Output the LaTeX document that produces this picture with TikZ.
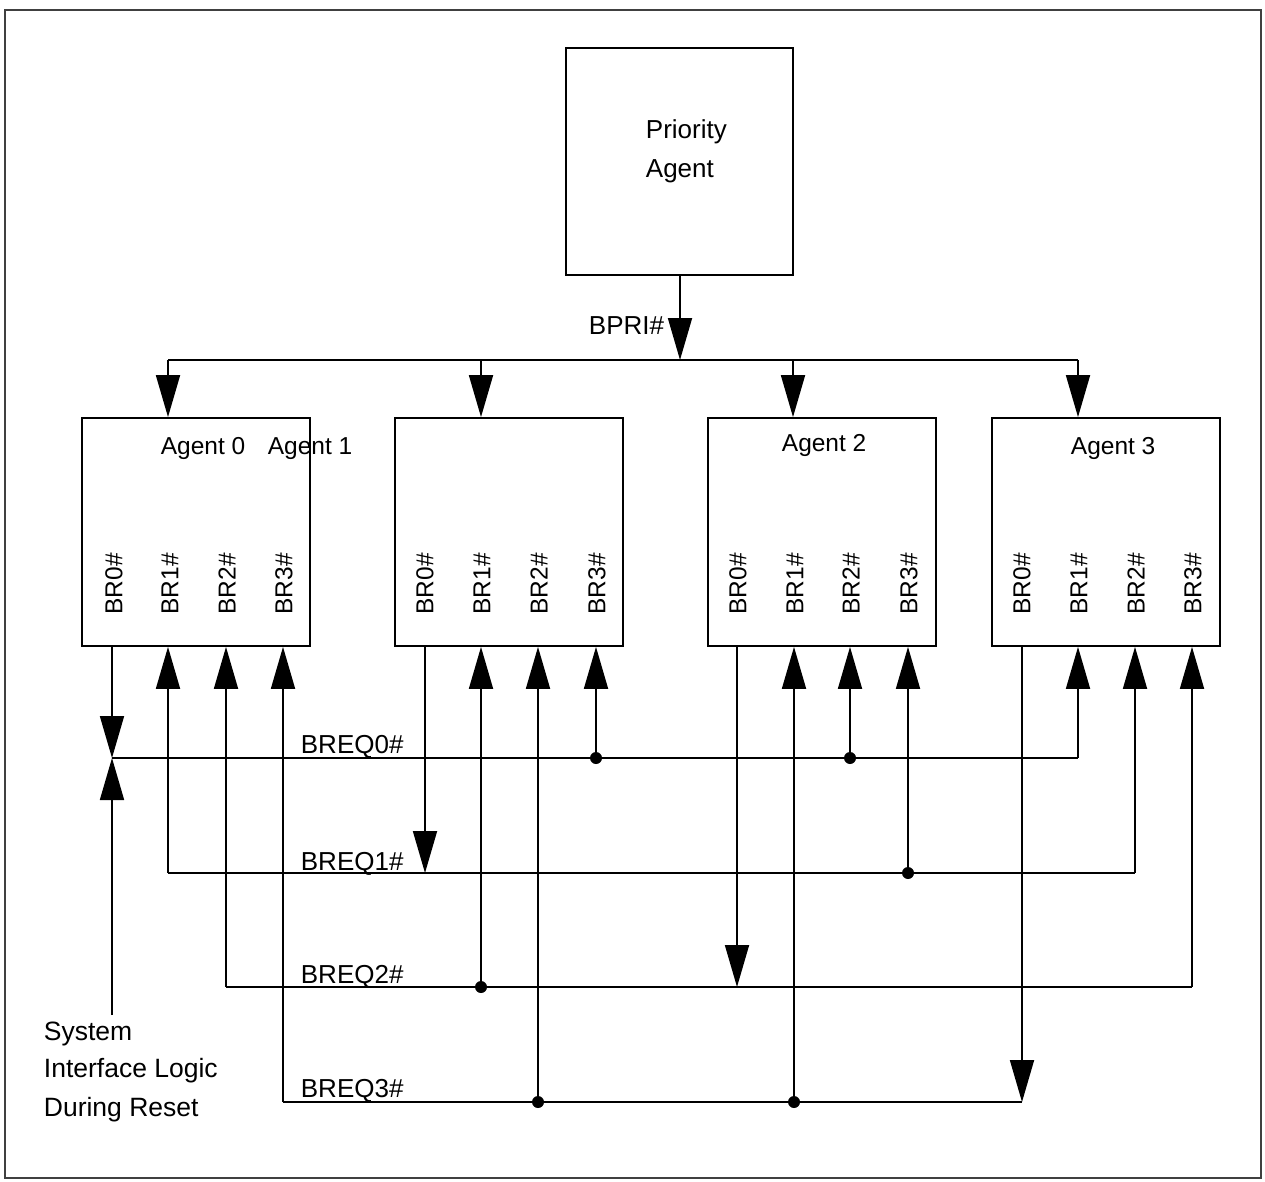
\documentclass[tikz,border=0pt]{standalone}
\usepackage{fontspec}
\setmainfont{Liberation Sans}
\usetikzlibrary{arrows.meta}
\begin{document}
\begin{tikzpicture}[x=1pt,y=-1pt,
  line width=1.8pt,
  box/.style={draw, line width=1.8pt, minimum width=228pt, minimum height=228pt, inner sep=0pt},
  lbl/.style={font=\fontsize{24.5}{29}\selectfont, inner sep=0pt},
  big/.style={font=\fontsize{26}{31}\selectfont, inner sep=0pt},
  br/.style={lbl, rotate=90},
  arr/.style={-{Triangle[length=42pt,width=24pt]}},
  dot/.style={circle, fill, inner sep=0pt, minimum size=12pt}]
\useasboundingbox (0,0) rectangle (1265,1182);
\draw[line width=2pt, black!75] (5,10) rectangle (1261,1178);

% boxes
\node[box, minimum width=227pt, minimum height=227pt] (pa) at (679.5,161.5) {};
\node[big, anchor=base west] (pat1) at (645,139) {Priority};
\node[big, anchor=base west] (pat2) at (645,178) {Agent};

\node[box] (box0) at (196,532) {};
\node[box] (box1) at (509,532) {};
\node[box] (box2) at (822,532) {};
\node[box] (box3) at (1106,532) {};

\node[lbl, anchor=base west] (ag0) at (160,454) {Agent 0};
\node[lbl, anchor=base west] (ag1) at (267,454) {Agent 1};
\node[lbl, anchor=base west] (ag2) at (781,451) {Agent 2};
\node[lbl, anchor=base west] (ag3) at (1070,454) {Agent 3};

% BR labels
\foreach \b/\xa/\xb/\xc/\xd in {0/114/425/738/1022, 1/170/482/795/1079, 2/227/539/851/1136, 3/284/597/909/1193}{
  \node[br] (a0b\b) at (\xa,584) {BR\b\#};
  \node[br] (a1b\b) at (\xb,584) {BR\b\#};
  \node[br] (a2b\b) at (\xc,584) {BR\b\#};
  \node[br] (a3b\b) at (\xd,584) {BR\b\#};
}

% rows
\coordinate (bus) at (680,360);
\coordinate (sys) at (112,1015);

% BPRI
\draw[arr] (pa.south -| bus) -- (bus);
\node[big, anchor=base east] (bpri) at (665,334) {BPRI\#};
\draw (168,360) -- (1078,360);
\draw[arr] (168,360) -- (box0.north -| 168,0);
\draw[arr] (481,360) -- (box1.north -| 481,0);
\draw[arr] (793,360) -- (box2.north -| 793,0);
\draw[arr] (1078,360) -- (box3.north -| 1078,0);

% vertical signal lines
% agent 0
\draw[arr] (box0.south -| 112,0) -- (112,758);
\draw[arr] (sys) -- (112,758);
\draw[arr] (168,873) -- (box0.south -| 168,0);
\draw[arr] (226,987) -- (box0.south -| 226,0);
\draw[arr] (283,1102) -- (box0.south -| 283,0);
% agent 1
\draw[arr] (box1.south -| 425,0) -- (425,873);
\draw[arr] (481,987) -- (box1.south -| 481,0);
\draw[arr] (538,1102) -- (box1.south -| 538,0);
\draw[arr] (596,758) -- (box1.south -| 596,0);
% agent 2
\draw[arr] (box2.south -| 737,0) -- (737,987);
\draw[arr] (794,1102) -- (box2.south -| 794,0);
\draw[arr] (850,758) -- (box2.south -| 850,0);
\draw[arr] (908,873) -- (box2.south -| 908,0);
% agent 3
\draw[arr] (box3.south -| 1022,0) -- (1022,1102);
\draw[arr] (1078,758) -- (box3.south -| 1078,0);
\draw[arr] (1135,873) -- (box3.south -| 1135,0);
\draw[arr] (1192,987) -- (box3.south -| 1192,0);

% horizontal lines
\draw (112,758) -- (1078,758);
\draw (168,873) -- (1135,873);
\draw (226,987) -- (1192,987);
\draw (283,1102) -- (1022,1102);

% dots
\node[dot] (d1) at (596,758) {};
\node[dot] (d2) at (850,758) {};
\node[dot] (d3) at (908,873) {};
\node[dot] (d4) at (481,987) {};
\node[dot] (d5) at (538,1102) {};
\node[dot] (d6) at (794,1102) {};

% labels
\node[big, anchor=base west] (l0) at (300,753) {BREQ0\#};
\node[big, anchor=base west] (l1) at (300,870) {BREQ1\#};
\node[big, anchor=base west] (l2) at (300,983) {BREQ2\#};
\node[big, anchor=base west] (l3) at (300,1097) {BREQ3\#};

\node[big, font=\fontsize{26.5}{31}\selectfont, anchor=base west] (s1) at (43,1040) {System};
\node[big, font=\fontsize{26.5}{31}\selectfont, anchor=base west] (s2) at (43,1077) {Interface Logic};
\node[big, font=\fontsize{26.5}{31}\selectfont, anchor=base west] (s3) at (43,1116) {During Reset};
\end{tikzpicture}
\end{document}
